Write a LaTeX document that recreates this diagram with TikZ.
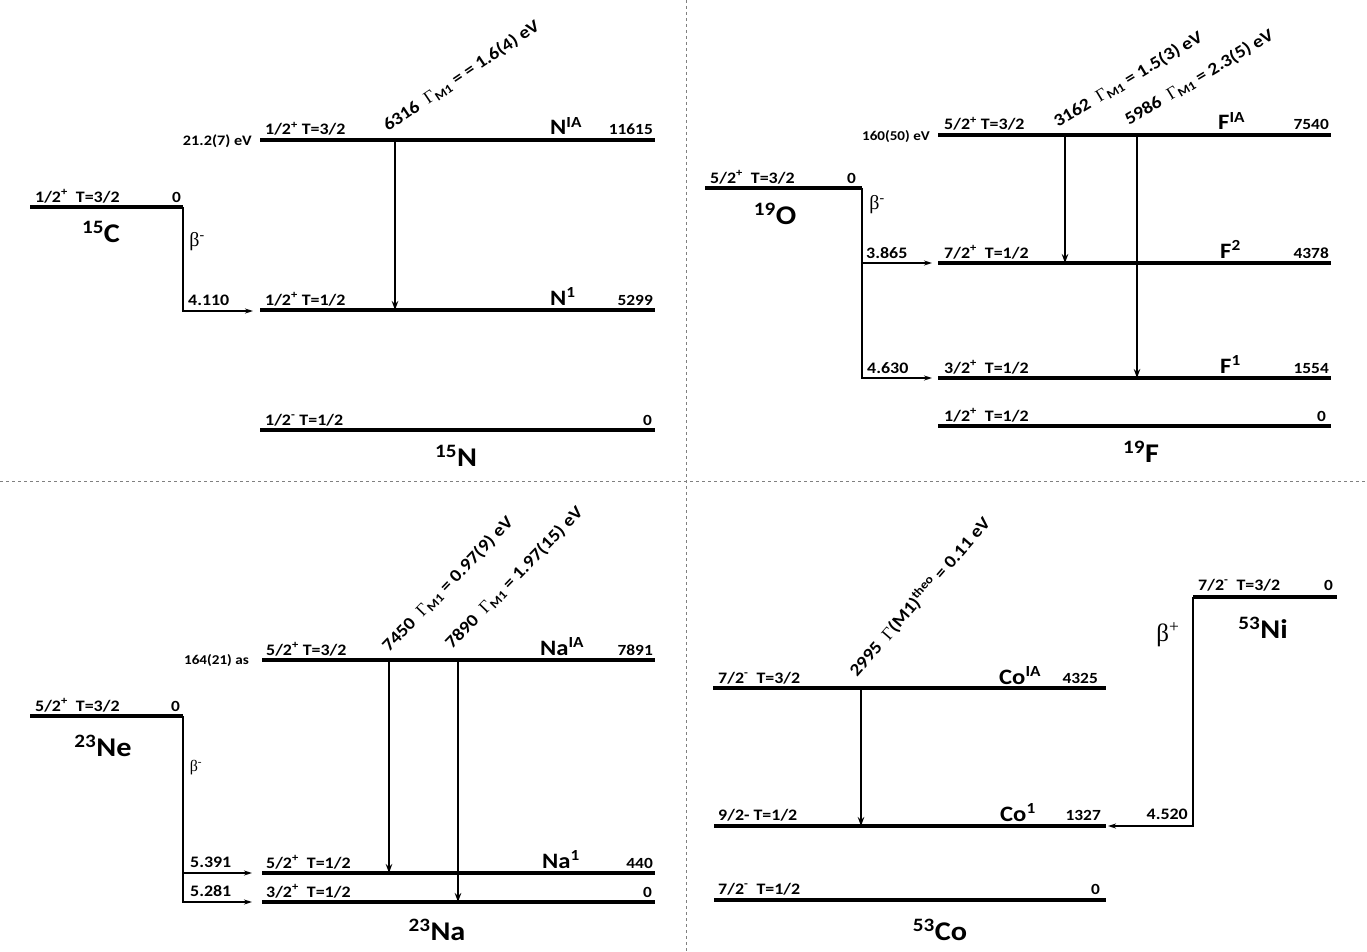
\documentclass[tikz,border=0pt]{standalone}
\usepackage{fontspec}
\setmainfont{Carlito}[FakeStretch=1.12]
\newfontfamily\grfont{Liberation Serif}
\usetikzlibrary{arrows.meta}

\tikzset{
  lvl/.style={line width=3.2pt},
  betaline/.style={line width=1.4pt, -{Stealth[length=8pt,width=5pt]}},
  gamline/.style={line width=2.8pt, -{Stealth[length=9pt,width=6.5pt]}},
  jpi/.style={font=\fontsize{16}{18}\selectfont\bfseries, anchor=base west, inner sep=0pt},
  enr/.style={font=\fontsize{15.5}{17}\selectfont\bfseries, anchor=base east, inner sep=0pt},
  qval/.style={font=\fontsize{16}{18}\selectfont\bfseries, anchor=base west, inner sep=0pt},
  stname/.style={font=\fontsize{22}{24}\selectfont\bfseries, anchor=base west, inner sep=0pt},
  nucl/.style={font=\fontsize{27}{29}\selectfont\bfseries, inner sep=0pt},
  decay/.style={font=\fontsize{20}{22}\selectfont\grfont, inner sep=0pt},
  halfw/.style={font=\fontsize{14.5}{16}\selectfont\bfseries, anchor=base east, inner sep=0pt},
  trans/.style={font=\fontsize{17.5}{19}\selectfont\bfseries, anchor=base west, inner sep=0pt},
  sep/.style={gray, dashed, line width=0.7pt},
}
\newcommand{\Gm}{{\grfont\mdseries Γ}}

\begin{document}
\begin{tikzpicture}[x=1pt, y=-1pt]
    \useasboundingbox (0,0) rectangle (1367,952);

    % Separadores de los cuadrantes
    \coordinate (sepN) at (686,0);
    \coordinate (sepS) at (686,952);
    \coordinate (sepW) at (0,481);
    \coordinate (sepE) at (1367,481);
    \draw[sep] (sepN) -- (sepS);
    \draw[sep] (sepW) -- (sepE);

    % Niveles (nombre / x izq / x der / y)
    \foreach \nm/\xa/\xb/\yy in {c15/30/183/207, nia/260/655/140, none/260/655/310, nzero/260/655/430,
        o19/705/862/188, fia/938/1331/135, ftwo/938/1331/263, fone/938/1331/378, fzero/938/1331/426,
        ne23/30/183/716, naia/262/655/660, naone/262/655/873, nazero/262/655/902,
        coia/713/1106/688, coone/714/1106/826, cozero/714/1106/900, ni53/1193/1337/597}
    {
      \coordinate (\nm w) at (\xa,\yy);
      \coordinate (\nm e) at (\xb,\yy);
      \draw[lvl] (\nm w) -- (\nm e);
    }

    % ---------- 15C -> 15N ----------
    \node[jpi] (c15jp) at (35,202) {1/2\textsuperscript{+}\ \ T=3/2};
    \node[enr] (c15en) at (181,202) {0};
    \node[nucl] (c15nm) at (101,232) {\textsuperscript{15}C};
    \node[decay] (c15bt) at (197,242) {β\textsuperscript{-}};
    \coordinate (b15) at (253,311);
    \draw[betaline] (c15e) |- (b15);
    \node[qval] (b15q) at (188,305) {4.110};

    \node[jpi] (niajp) at (265,135) {1/2\textsuperscript{+} T=3/2};
    \node[halfw] (niahw) at (252,146) {21.2(7) eV};
    \node[stname] (nianm) at (550,135) {N\textsuperscript{IA}};
    \node[enr] (niaen) at (653,135) {11615};
    \node[jpi] (nonejp) at (265,305) {1/2\textsuperscript{+} T=1/2};
    \node[stname] (nonenm) at (550,305) {N\textsuperscript{1}};
    \node[enr] (noneen) at (653,305) {5299};
    \node[jpi] (nzerojp) at (265,425) {1/2\textsuperscript{-} T=1/2};
    \node[enr] (nzeroen) at (652,425) {0};
    \node[nucl] (n15nm) at (456,456) {\textsuperscript{15}N};

    \coordinate (g6316) at (395,140);
    \draw[gamline] (g6316) -- (g6316 |- nonew);
    \node[trans, rotate=34] (t6316) at (388,132) {6316 \ \Gm\textsubscript{M1} = = 1.6(4) eV};

    % ---------- 19O -> 19F ----------
    \node[jpi] (o19jp) at (710,183) {5/2\textsuperscript{+}\ \ T=3/2};
    \node[enr] (o19en) at (856,183) {0};
    \node[nucl] (o19nm) at (775,214) {\textsuperscript{19}O};
    \node[decay] (o19bt) at (877,205) {β\textsuperscript{-}};
    \coordinate (b19a) at (932,263);
    \coordinate (b19b) at (932,378);
    \draw[betaline] (o19e) |- (b19b);
    \draw[betaline] (o19e |- b19a) -- (b19a);
    \node[qval] (b19aq) at (866,258) {3.865};
    \node[qval] (b19bq) at (867,373) {4.630};

    \node[jpi] (fiajp) at (944,130) {5/2\textsuperscript{+} T=3/2};
    \node[halfw, font=\fontsize{13.5}{15}\selectfont\bfseries] (fiahw) at (930,141) {160(50) eV};
    \node[stname] (fianm) at (1218,130) {F\textsuperscript{IA}};
    \node[enr] (fiaen) at (1329,130) {7540};
    \node[jpi] (ftwojp) at (944,258) {7/2\textsuperscript{+}\ \ T=1/2};
    \node[stname] (ftwonm) at (1220,258) {F\textsuperscript{2}};
    \node[enr] (ftwoen) at (1329,258) {4378};
    \node[jpi] (fonejp) at (944,373) {3/2\textsuperscript{+}\ \ T=1/2};
    \node[stname] (fonenm) at (1220,373) {F\textsuperscript{1}};
    \node[enr] (foneen) at (1329,373) {1554};
    \node[jpi] (fzerojp) at (944,421) {1/2\textsuperscript{+}\ \ T=1/2};
    \node[enr] (fzeroen) at (1326,421) {0};
    \node[nucl] (f19nm) at (1141,452) {\textsuperscript{19}F};

    \coordinate (g3162) at (1065,135);
    \coordinate (g5986) at (1137,135);
    \draw[gamline] (g3162) -- (g3162 |- ftwow);
    \draw[gamline] (g5986) -- (g5986 |- fonew);
    \node[trans, rotate=31] (t3162) at (1058,128) {3162 \ \Gm\textsubscript{M1} = 1.5(3) eV};
    \node[trans, rotate=31] (t5986) at (1129,126) {5986 \ \Gm\textsubscript{M1} = 2.3(5) eV};

    % ---------- 23Ne -> 23Na ----------
    \node[jpi] (ne23jp) at (35,711) {5/2\textsuperscript{+}\ \ T=3/2};
    \node[enr] (ne23en) at (180,711) {0};
    \node[nucl] (ne23nm) at (103,746) {\textsuperscript{23}Ne};
    \node[decay, font=\fontsize{16}{18}\selectfont\grfont] (ne23bt) at (196,768) {β\textsuperscript{-}};
    \coordinate (b23a) at (252,873);
    \coordinate (b23b) at (252,902);
    \draw[betaline] (ne23e) |- (b23b);
    \draw[betaline] (ne23e |- b23a) -- (b23a);
    \node[qval] (b23aq) at (190,867) {5.391};
    \node[qval] (b23bq) at (190,896) {5.281};

    \node[jpi] (naiajp) at (266,655) {5/2\textsuperscript{+} T=3/2};
    \node[halfw, font=\fontsize{13.5}{15}\selectfont\bfseries] (naiahw) at (249,664) {164(21) as};
    \node[stname] (naianm) at (540,655) {Na\textsuperscript{IA}};
    \node[enr] (naiaen) at (653,655) {7891};
    \node[jpi] (naonejp) at (266,868) {5/2\textsuperscript{+}\ \ T=1/2};
    \node[stname] (naonenm) at (542,868) {Na\textsuperscript{1}};
    \node[enr] (naoneen) at (653,868) {440};
    \node[jpi] (nazerojp) at (266,897) {3/2\textsuperscript{+}\ \ T=1/2};
    \node[enr] (nazeroen) at (652,897) {0};
    \node[nucl] (na23nm) at (437,930) {\textsuperscript{23}Na};

    \coordinate (g7450) at (389,660);
    \coordinate (g7890) at (458,660);
    \draw[gamline] (g7450) -- (g7450 |- naonew);
    \draw[gamline] (g7890) -- (g7890 |- nazerow);
    \node[trans, rotate=46] (t7450) at (389,653) {7450 \ \Gm\textsubscript{M1} = 0.97(9) eV};
    \node[trans, rotate=46] (t7890) at (452,650) {7890 \ \Gm\textsubscript{M1} = 1.97(15) eV};

    % ---------- 53Ni -> 53Co ----------
    \node[jpi] (ni53jp) at (1198,590) {7/2\textsuperscript{-}\ \ T=3/2};
    \node[enr] (ni53en) at (1333,590) {0};
    \node[nucl] (ni53nm) at (1263,628) {\textsuperscript{53}Ni};
    \node[decay, font=\fontsize{25}{27}\selectfont\grfont] (ni53bt) at (1168,635) {β\textsuperscript{+}};
    \coordinate (b53) at (1108,826);
    \draw[betaline] (ni53w) |- (b53);
    \node[qval, anchor=base east] (b53q) at (1188,819) {4.520};

    \node[jpi] (coiajp) at (718,683) {7/2\textsuperscript{-}\ \ T=3/2};
    \node[stname] (coianm) at (999,684) {Co\textsuperscript{IA}};
    \node[enr] (coiaen) at (1098,683) {4325};
    \node[jpi] (coonejp) at (718,820) {9/2- T=1/2};
    \node[stname] (cooneenm) at (1000,821) {Co\textsuperscript{1}};
    \node[enr] (cooneen) at (1101,820) {1327};
    \node[jpi] (cozerojp) at (718,894) {7/2\textsuperscript{-}\ \ T=1/2};
    \node[enr] (cozeroen) at (1100,894) {0};
    \node[nucl] (co53nm) at (940,930) {\textsuperscript{53}Co};

    \coordinate (g2995) at (861,688);
    \draw[gamline] (g2995) -- (g2995 |- coonew);
    \node[trans, rotate=49] (t2995) at (857,678) {2995 \ \Gm(M1)\textsuperscript{theo} = 0.11 eV};
\end{tikzpicture}
\end{document}
